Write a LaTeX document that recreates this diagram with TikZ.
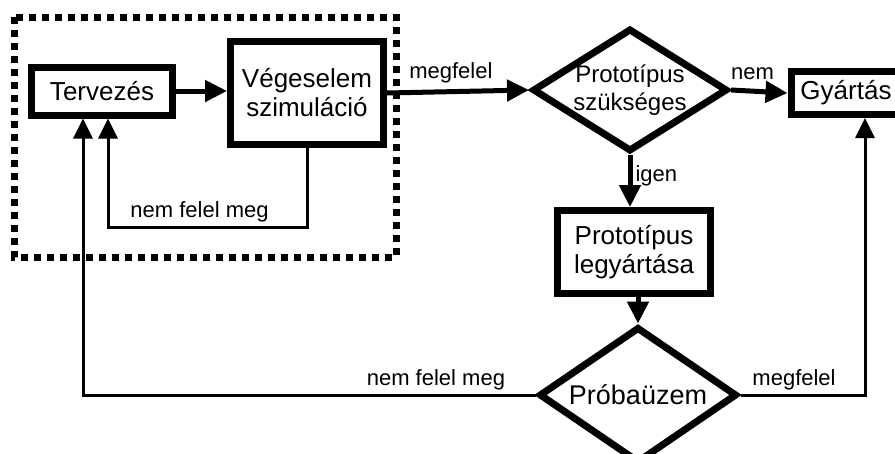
\documentclass[tikz,border=0pt]{standalone}
\usepackage{fontspec}
\setmainfont{Liberation Sans}
\usetikzlibrary{arrows.meta,shapes.geometric}
\begin{document}
\begin{tikzpicture}[x=1pt,y=-1pt,
  box/.style={draw,line width=7pt,inner sep=0pt,align=center,font=\fontsize{26}{29}\selectfont},
  decision/.style={draw,diamond,line width=7pt,inner sep=0pt},
  lbl/.style={font=\fontsize{22}{24}\selectfont,inner sep=3pt},
  flow/.style={line width=5pt,-{Triangle[length=22pt,width=21pt]}},
  back/.style={line width=3pt,-{Triangle[length=20pt,width=19pt]}}]
  \useasboundingbox (0,0) rectangle (895,453);
  \clip (0,0) rectangle (895,453);
  \draw [line width=7pt,dash pattern=on 7pt off 6pt] (14,17) rectangle (396,257);
  \node [box,minimum width=141pt,minimum height=48pt] (terv) at (102,91) {Tervezés};
  \node [box,minimum width=153pt,minimum height=103pt] (veg) at (307,93) {Végeselem\\szimuláció};
  \node [decision,minimum width=195pt,minimum height=123pt,
    label={[name=d1txt,font=\fontsize{24}{28}\selectfont,align=center]center:Prototípus\\szükséges}] (d1) at (630,90) {};
  \node [box,minimum width=110pt,minimum height=43pt] (gy) at (846,93) {Gyártás};
  \node [box,minimum width=153pt,minimum height=83pt] (pl) at (634,252) {Prototípus\\legyártása};
  \node [decision,minimum width=198pt,minimum height=136pt,
    label={[name=d2txt,font=\fontsize{27}{30}\selectfont]center:Próbaüzem}] (d2) at (638,395) {};
  \coordinate (fb1) at (108,227);
  \coordinate (fb2) at (83,395);
  \coordinate (fw) at (865,395);
  \draw [flow] (terv.east) -- (terv.east -| veg.west);
  \draw [flow] (veg.east) -- node [lbl,above=3pt,pos=0.45] (lmeg) {megfelel} (d1.west);
  \draw [flow] (d1.east) -- node [lbl,above=6pt,pos=0.38] (lnem) {nem} (gy.west);
  \draw [flow] (d1.south) -- node [lbl,right,pos=0.4] (ligen) {igen} (d1.south |- pl.north);
  \draw [flow] (d2.north |- pl.south) -- (d2.north);
  \draw [back] (veg.south) |- node [lbl,pos=0.77,above] (lfb1) {nem felel meg} (fb1) -- (fb1 |- terv.south);
  \draw [back] (d2.west) -- node [lbl,pos=0.22,above] (lfb2) {nem felel meg} (fb2) -- (fb2 |- terv.south);
  \draw [back] (d2.east) -- node [lbl,pos=0.43,above] (lfw) {megfelel} (fw) -- (fw |- gy.south);
\end{tikzpicture}
\end{document}
